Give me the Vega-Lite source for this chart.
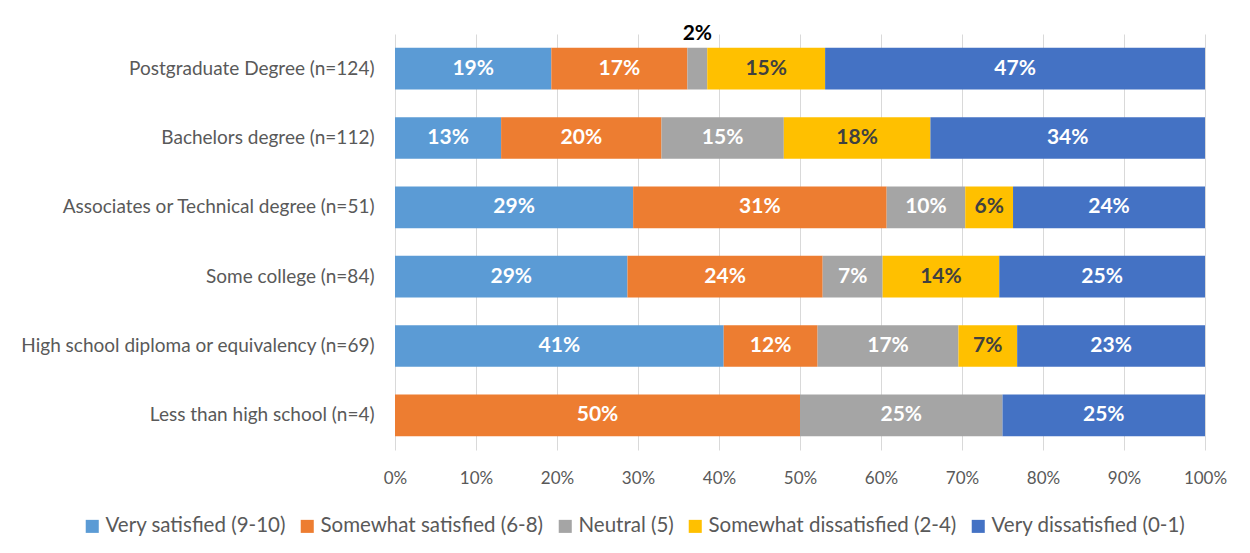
{
  "$schema": "https://vega.github.io/schema/vega-lite/v6.json",
  "width": 810,
  "height": 416,
  "autosize": "none",
  "padding": {"left": 395, "top": 34, "right": 45, "bottom": 103},
  "background": "white",
  "config": {"view": {"stroke": null}, "font": "Lato"},
  "data": {
    "values": [
      {"edu": "Postgraduate Degree (n=124)", "cat": "Very satisfied (9-10)", "value": 19.3},
      {"edu": "Postgraduate Degree (n=124)", "cat": "Somewhat satisfied (6-8)", "value": 16.8},
      {"edu": "Postgraduate Degree (n=124)", "cat": "Neutral (5)", "value": 2.45},
      {"edu": "Postgraduate Degree (n=124)", "cat": "Somewhat dissatisfied (2-4)", "value": 14.55},
      {"edu": "Postgraduate Degree (n=124)", "cat": "Very dissatisfied (0-1)", "value": 46.9},
      {"edu": "Bachelors degree (n=112)", "cat": "Very satisfied (9-10)", "value": 13.1},
      {"edu": "Bachelors degree (n=112)", "cat": "Somewhat satisfied (6-8)", "value": 19.8},
      {"edu": "Bachelors degree (n=112)", "cat": "Neutral (5)", "value": 15.1},
      {"edu": "Bachelors degree (n=112)", "cat": "Somewhat dissatisfied (2-4)", "value": 18.1},
      {"edu": "Bachelors degree (n=112)", "cat": "Very dissatisfied (0-1)", "value": 33.9},
      {"edu": "Associates or Technical degree (n=51)", "cat": "Very satisfied (9-10)", "value": 29.4},
      {"edu": "Associates or Technical degree (n=51)", "cat": "Somewhat satisfied (6-8)", "value": 31.3},
      {"edu": "Associates or Technical degree (n=51)", "cat": "Neutral (5)", "value": 9.7},
      {"edu": "Associates or Technical degree (n=51)", "cat": "Somewhat dissatisfied (2-4)", "value": 5.9},
      {"edu": "Associates or Technical degree (n=51)", "cat": "Very dissatisfied (0-1)", "value": 23.7},
      {"edu": "Some college (n=84)", "cat": "Very satisfied (9-10)", "value": 28.7},
      {"edu": "Some college (n=84)", "cat": "Somewhat satisfied (6-8)", "value": 24.1},
      {"edu": "Some college (n=84)", "cat": "Neutral (5)", "value": 7.4},
      {"edu": "Some college (n=84)", "cat": "Somewhat dissatisfied (2-4)", "value": 14.4},
      {"edu": "Some college (n=84)", "cat": "Very dissatisfied (0-1)", "value": 25.4},
      {"edu": "High school diploma or equivalency (n=69)", "cat": "Very satisfied (9-10)", "value": 40.58},
      {"edu": "High school diploma or equivalency (n=69)", "cat": "Somewhat satisfied (6-8)", "value": 11.59},
      {"edu": "High school diploma or equivalency (n=69)", "cat": "Neutral (5)", "value": 17.39},
      {"edu": "High school diploma or equivalency (n=69)", "cat": "Somewhat dissatisfied (2-4)", "value": 7.25},
      {"edu": "High school diploma or equivalency (n=69)", "cat": "Very dissatisfied (0-1)", "value": 23.19},
      {"edu": "Less than high school (n=4)", "cat": "Somewhat satisfied (6-8)", "value": 50},
      {"edu": "Less than high school (n=4)", "cat": "Neutral (5)", "value": 25},
      {"edu": "Less than high school (n=4)", "cat": "Very dissatisfied (0-1)", "value": 25}
    ]
  },
  "transform": [
    {"calculate": "indexof(['Very satisfied (9-10)','Somewhat satisfied (6-8)','Neutral (5)','Somewhat dissatisfied (2-4)','Very dissatisfied (0-1)'], datum.cat)", "as": "order"},
    {"stack": "value", "groupby": ["edu"], "sort": [{"field": "order", "order": "ascending"}], "as": ["v0", "v1"]},
    {"calculate": "(datum.v0 + datum.v1) / 2", "as": "mid"},
    {"calculate": "format(datum.value, '.0f') + '%'", "as": "label"}
  ],
  "encoding": {
    "y": {
      "field": "edu",
      "type": "nominal",
      "sort": ["Postgraduate Degree (n=124)", "Bachelors degree (n=112)", "Associates or Technical degree (n=51)", "Some college (n=84)", "High school diploma or equivalency (n=69)", "Less than high school (n=4)"],
      "scale": {"paddingInner": 0.4, "paddingOuter": 0.2},
      "axis": {"title": null, "ticks": false, "domain": false, "labelPadding": 21, "labelFontSize": 19, "labelColor": "#595959", "labelLimit": 400}
    }
  },
  "layer": [
    {
      "mark": {"type": "bar"},
      "encoding": {
        "x": {
          "field": "v0",
          "type": "quantitative",
          "scale": {"domain": [0, 100], "nice": false},
          "axis": {"title": null, "values": [0, 10, 20, 30, 40, 50, 60, 70, 80, 90, 100], "labelExpr": "datum.value + '%'", "labelFlush": false, "grid": true, "gridColor": "#D9D9D9", "domain": false, "ticks": false, "labelPadding": 20, "labelFontSize": 17, "labelColor": "#595959"}
        },
        "x2": {"field": "v1"},
        "color": {
          "field": "cat",
          "type": "nominal",
          "scale": {
            "domain": ["Very satisfied (9-10)", "Somewhat satisfied (6-8)", "Neutral (5)", "Somewhat dissatisfied (2-4)", "Very dissatisfied (0-1)"],
            "range": ["#5B9BD5", "#ED7D31", "#A5A5A5", "#FFC000", "#4472C4"]
          },
          "legend": {"orient": "none", "direction": "horizontal", "legendX": -313, "legendY": 482, "title": null, "symbolType": "square", "symbolSize": 170, "symbolStrokeWidth": 0, "labelFontSize": 20.5, "labelColor": "#595959", "columnPadding": 11, "labelOffset": 3, "labelLimit": 400}
        }
      }
    },
    {
      "transform": [{"filter": "datum.value >= 4"}],
      "mark": {"type": "text", "fontWeight": "bold", "fontSize": 21},
      "encoding": {
        "x": {"field": "mid", "type": "quantitative"},
        "text": {"field": "label"},
        "color": {"condition": {"test": "datum.cat === 'Somewhat dissatisfied (2-4)'", "value": "#404040"}, "value": "white"}
      }
    },
    {
      "transform": [{"filter": "datum.value > 0 && datum.value < 4"}],
      "mark": {"type": "text", "fontWeight": "bold", "fontSize": 21, "dy": -35, "color": "black"},
      "encoding": {
        "x": {"field": "mid", "type": "quantitative"},
        "text": {"field": "label"}
      }
    }
  ]
}
